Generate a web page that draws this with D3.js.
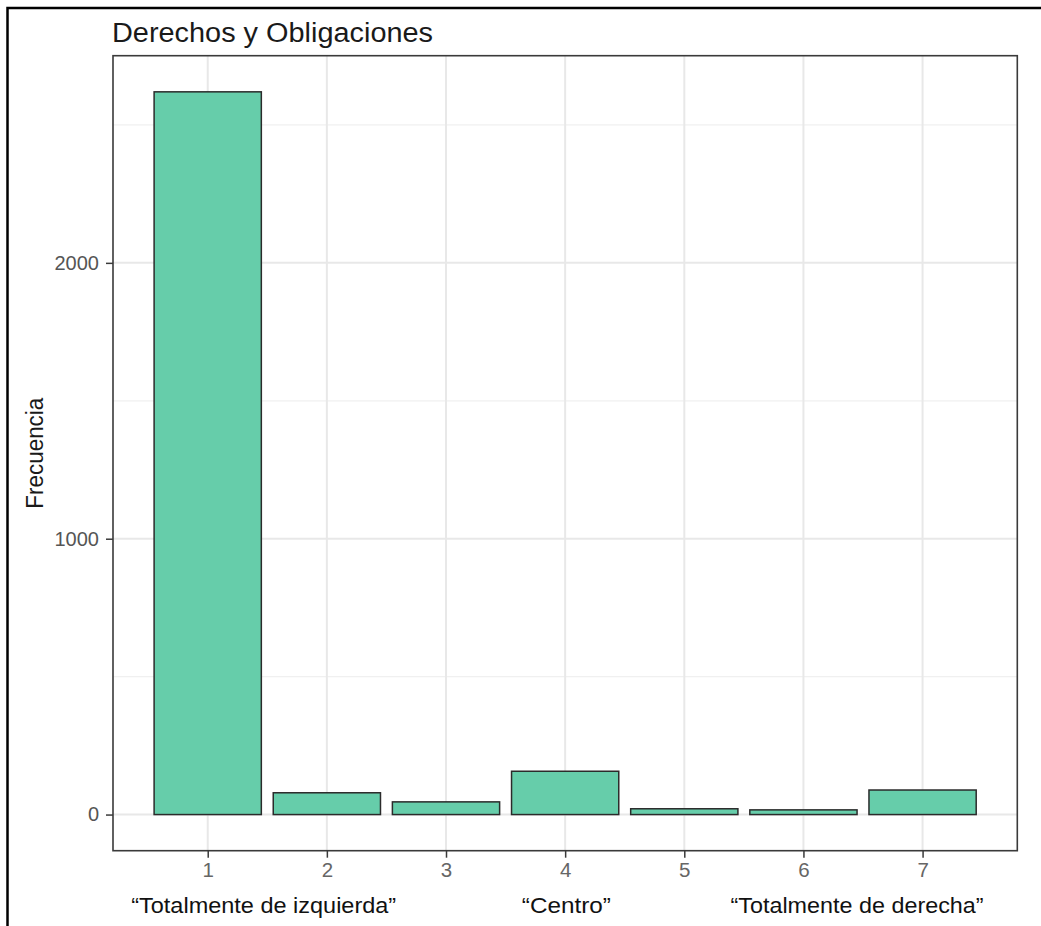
<!DOCTYPE html>
<html>
<head>
<meta charset="utf-8">
<script src="https://cdn.jsdelivr.net/npm/d3@7"></script>
<style>
  html, body { margin: 0; padding: 0; background: #fff; }
  svg { display: block; font-family: "Liberation Sans", Arial, sans-serif; }
</style>
</head>
<body>
<div id="chart"></div>
<script>
// ---- data ----
const categories = [1, 2, 3, 4, 5, 6, 7];
const frecuencia = [2620, 79, 46, 157, 21, 17, 89];
const yTicks = [0, 1000, 2000];
const yMinorTicks = [500, 1500, 2500];
const xTickLabels = ["1", "2", "3", "4", "5", "6", "7"];
const annotLabels = ["\u201CTotalmente de izquierda\u201D", "\u201CCentro\u201D", "\u201CTotalmente de derecha\u201D"];
const annotPositions = [1.47, 4.01, 6.45];
const annotWidths = [265, 89, 253];
const title = "Derechos y Obligaciones";
const yLabel = "Frecuencia";

// ---- layout ----
const W = 1041, H = 926;
const panel = { left: 113, top: 55.7, right: 1017.3, bottom: 850.7 };
const barWidth = 0.9;

const svg = d3.select("#chart").append("svg").attr("width", W).attr("height", H);

// ggplot-like continuous expansion (5%)
const xMin = d3.min(categories) - barWidth / 2, xMax = d3.max(categories) + barWidth / 2;
const xPad = (xMax - xMin) * 0.05;
const x = d3.scaleLinear().domain([xMin - xPad, xMax + xPad]).range([panel.left, panel.right]);

const yMax = d3.max(frecuencia), yPad = yMax * 0.05;
const y = d3.scaleLinear().domain([0 - yPad, yMax + yPad]).range([panel.bottom, panel.top]);

// panel background
svg.append("rect")
  .attr("x", panel.left).attr("y", panel.top)
  .attr("width", panel.right - panel.left).attr("height", panel.bottom - panel.top)
  .attr("fill", "#fff");

// gridlines
const grid = svg.append("g");
grid.selectAll("line.ymin").data(yMinorTicks).join("line")
  .attr("x1", panel.left).attr("x2", panel.right)
  .attr("y1", d => y(d)).attr("y2", d => y(d))
  .attr("stroke", "#f0f0f0").attr("stroke-width", 1.2);
grid.selectAll("line.ymaj").data(yTicks).join("line")
  .attr("x1", panel.left).attr("x2", panel.right)
  .attr("y1", d => y(d)).attr("y2", d => y(d))
  .attr("stroke", "#e8e8e8").attr("stroke-width", 2);
grid.selectAll("line.xmaj").data(categories).join("line")
  .attr("y1", panel.top).attr("y2", panel.bottom)
  .attr("x1", d => x(d)).attr("x2", d => x(d))
  .attr("stroke", "#e8e8e8").attr("stroke-width", 2);

// bars
svg.append("g").selectAll("rect").data(categories).join("rect")
  .attr("x", d => x(d - barWidth / 2))
  .attr("width", d => x(d + barWidth / 2) - x(d - barWidth / 2))
  .attr("y", (d, i) => y(frecuencia[i]))
  .attr("height", (d, i) => y(0) - y(frecuencia[i]))
  .attr("fill", "#66CDAA")
  .attr("stroke", "#2b2b2b")
  .attr("stroke-width", 1.5);

// panel border
svg.append("rect")
  .attr("x", panel.left).attr("y", panel.top)
  .attr("width", panel.right - panel.left).attr("height", panel.bottom - panel.top)
  .attr("fill", "none").attr("stroke", "#3a3a3a").attr("stroke-width", 1.6);

// y axis
const yAxis = d3.axisLeft(y).tickValues(yTicks).tickSize(7).tickPadding(7).tickFormat(d3.format("d"));
const gy = svg.append("g").attr("transform", `translate(${panel.left},0)`).call(yAxis);
gy.select(".domain").remove();
gy.selectAll(".tick line").attr("stroke", "#3a3a3a").attr("stroke-width", 1.5);
gy.selectAll(".tick text").attr("fill", "#555").attr("font-size", 20)
  .attr("font-family", "Liberation Sans, Arial, sans-serif");

// x axis
const xAxis = d3.axisBottom(x).tickValues(categories).tickSize(7).tickPadding(5)
  .tickFormat((d, i) => xTickLabels[i]);
const gx = svg.append("g").attr("transform", `translate(0,${panel.bottom})`).call(xAxis);
gx.select(".domain").remove();
gx.selectAll(".tick line").attr("stroke", "#3a3a3a").attr("stroke-width", 1.5);
gx.selectAll(".tick text").attr("fill", "#666").attr("font-size", 20.5)
  .attr("font-family", "Liberation Sans, Arial, sans-serif");

// title
svg.append("text")
  .attr("x", panel.left - 1).attr("y", 42.3)
  .attr("font-size", 27).attr("fill", "#1a1a1a")
  .attr("textLength", 321).attr("lengthAdjust", "spacingAndGlyphs")
  .text(title);

// y label
svg.append("text")
  .attr("transform", `translate(42.5,${(panel.top + panel.bottom) / 2}) rotate(-90)`)
  .attr("text-anchor", "middle")
  .attr("font-size", 23).attr("fill", "#1a1a1a")
  .attr("textLength", 111).attr("lengthAdjust", "spacingAndGlyphs")
  .text(yLabel);

// bottom annotations
svg.append("g").selectAll("text").data(annotLabels).join("text")
  .attr("x", (d, i) => x(annotPositions[i]))
  .attr("y", 912.5)
  .attr("text-anchor", "middle")
  .attr("font-size", 22).attr("fill", "#111")
  .attr("textLength", (d, i) => annotWidths[i]).attr("lengthAdjust", "spacingAndGlyphs")
  .text(d => d);

// outer frame (only left & top visible)
svg.append("rect")
  .attr("x", 7.5).attr("y", 8)
  .attr("width", W + 20).attr("height", H + 20)
  .attr("fill", "none").attr("stroke", "#000").attr("stroke-width", 2.5);
</script>
</body>
</html>
